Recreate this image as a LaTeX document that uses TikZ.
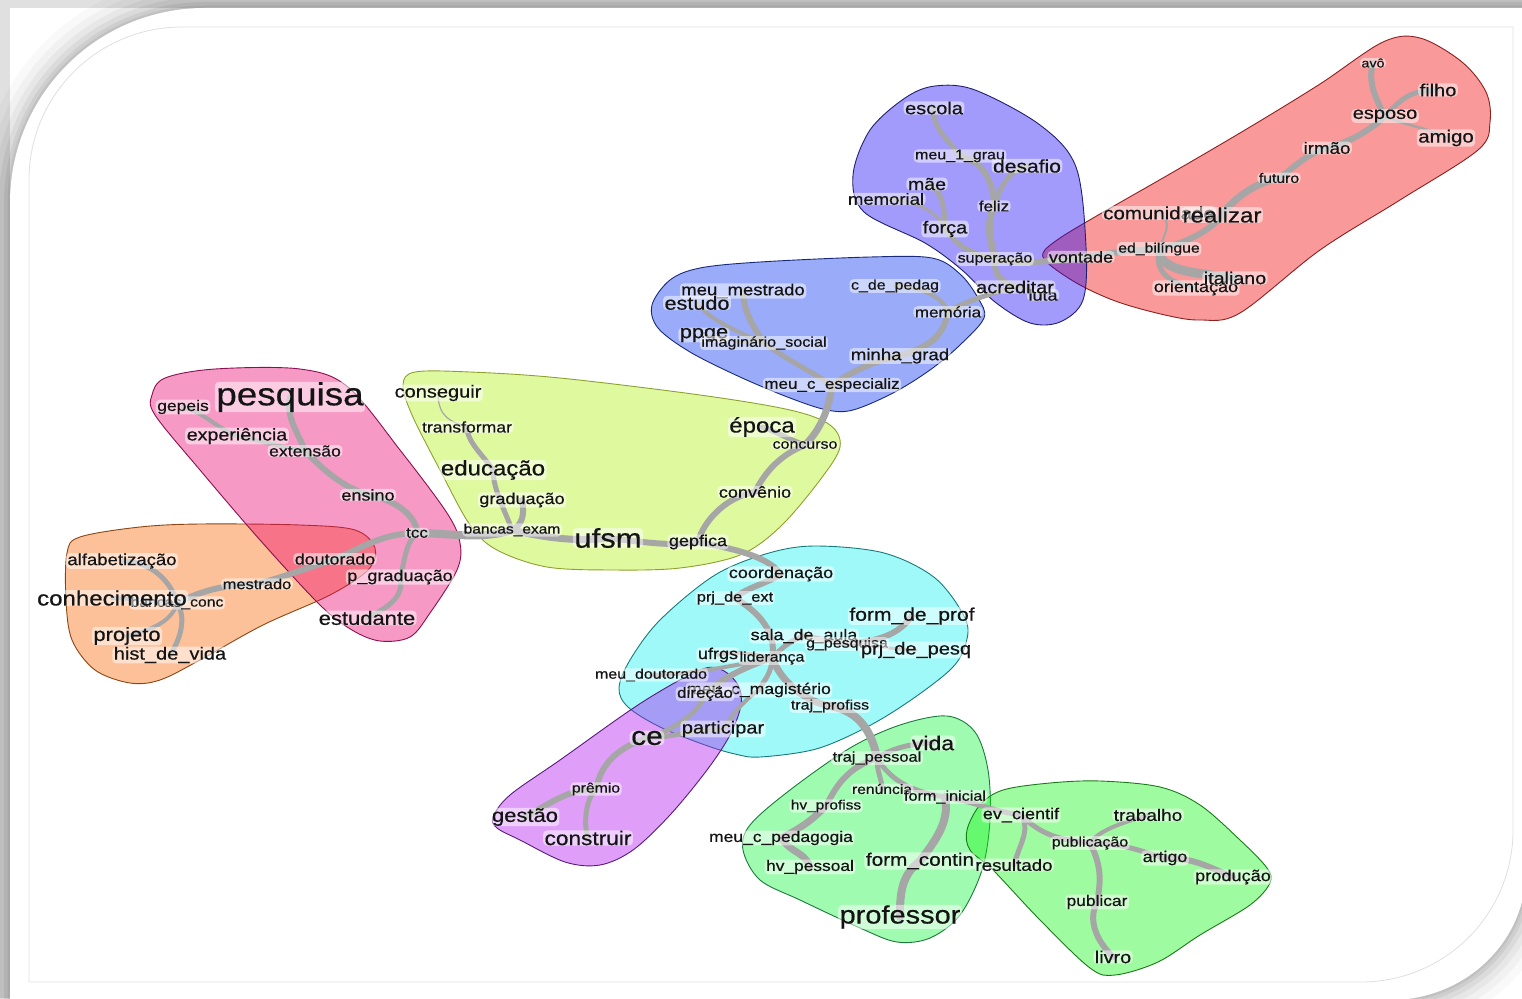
\documentclass[tikz,border=0pt]{standalone}
\usepackage{fontspec}
\setmainfont{Liberation Sans}[FakeStretch=1.15,FakeBold=0.5]
\pgfdeclarelayer{frame}
\pgfdeclarelayer{hulls}
\pgfdeclarelayer{edges}
\pgfsetlayers{frame,hulls,edges,main}
\definecolor{edgegray}{HTML}{A6A6A6}
\definecolor{hred}{HTML}{F00000}\definecolor{hredd}{HTML}{8B2020}
\definecolor{hvio}{HTML}{1907F5}\definecolor{hviod}{HTML}{20206E}
\definecolor{hblu}{HTML}{022DF2}\definecolor{hblud}{HTML}{1A2A7A}
\definecolor{hyel}{HTML}{AFF20F}\definecolor{hyeld}{HTML}{8FA030}
\definecolor{hpnk}{HTML}{ED0070}\definecolor{hpnkd}{HTML}{8B1050}
\definecolor{horg}{HTML}{FA6600}\definecolor{horgd}{HTML}{8B4513}
\definecolor{hcya}{HTML}{0FF2F2}\definecolor{hcyad}{HTML}{1A7A7A}
\definecolor{hpur}{HTML}{AF11F0}\definecolor{hpurd}{HTML}{5A1A7A}
\definecolor{hmnt}{HTML}{0FF537}\definecolor{hmntd}{HTML}{1A7A3A}
\definecolor{hgrn}{HTML}{11F511}\definecolor{hgrnd}{HTML}{1A7A1A}
\newcommand\fsz[1]{\fontsize{#1}{#1}\selectfont}
\newcommand\lbl[1]{#1}
\tikzset{
 lb/.style={inner xsep=1.5pt, inner ysep=0.3pt, outer sep=0pt, text=black!92,
   fill=white, fill opacity=0.5, text opacity=1, rounded corners=4pt},
 sz/.style={font=\fsz{#1}},
 lnk/.style={draw=edgegray, line width=#1pt, line cap=round},
 hull/.style 2 args={fill=#1, fill opacity=0.4, draw=#2, draw opacity=1, line width=0.9pt},
}
\begin{document}
\begin{tikzpicture}[x=1pt,y=-1pt]
\useasboundingbox (0,0) rectangle (1522,998);
% ---------- frame ----------
\begin{pgfonlayer}{frame}
\fill[white] (0,0) rectangle (1522,998);
\fill[black!12] (0,0) rectangle (1522,8);
\fill[black!12] (0,0) rectangle (10,998);
\foreach \w/\o in {64/0.025,48/0.03,34/0.04,22/0.05,12/0.06,5/0.06}{
 \draw[line width=\w pt, black, opacity=\o] (10,1010) -- (10,203) .. controls (10,95) and (97,8) .. (205,8) -- (1540,8);
 \draw[line width=\w pt, black, opacity=\o] (1526,700) -- (1526,870) .. controls (1526,942) and (1465,1000) .. (1390,1000) -- (1200,1000);
}
\fill[white] (10,1010) -- (10,203) .. controls (10,95) and (97,8) .. (205,8) -- (1530,8) -- (1526,870) .. controls (1526,942) and (1465,1000) .. (1390,1000) -- cycle;
\draw[black!12, line width=0.8pt] (29,982) -- (29,180) .. controls (29,95.5) and (97.5,27) .. (182,27) -- (1513,27) -- (1513,830) .. controls (1513,914) and (1445,982) .. (1361,982) -- cycle;
\end{pgfonlayer}
% ---------- hulls ----------
\begin{pgfonlayer}{hulls}
\draw[hull={hred}{hredd}] plot[smooth cycle, tension=0.55] coordinates {(1043,253) (1060,238) (1100,214) (1175,171) (1250,127) (1320,84) (1383,42) (1420,38) (1462,62) (1486,92) (1490,122) (1478,150) (1400,200) (1320,250) (1240,313) (1200,320) (1165,315) (1118,302) (1080,285) (1050,265)};
\draw[hull={hvio}{hviod}] plot[smooth cycle, tension=0.55] coordinates {(905,98) (935,86) (975,90) (1040,125) (1076,167) (1086,247) (1083,300) (1060,322) (1030,323) (995,302) (962,270) (925,243) (864,212) (853,175) (870,130)};
\draw[hull={hblu}{hblud}] plot[smooth cycle, tension=0.55] coordinates {(652,305) (670,280) (700,268) (760,262) (870,257) (932,258) (960,274) (978,298) (984,318) (960,345) (930,370) (893,393) (853,410) (827,410) (790,398) (740,377) (690,352) (658,328)};
\draw[hull={hyel}{hyeld}] plot[smooth cycle, tension=0.55] coordinates {(403,385) (415,372) (470,372) (560,378) (700,395) (790,410) (830,425) (840,447) (820,480) (780,527) (740,555) (680,568) (613,570) (547,567) (497,550) (470,525) (440,470) (412,415)};
\draw[hull={horg}{horgd}] plot[smooth cycle, tension=0.55] coordinates {(67,553) (80,537) (140,527) (200,524) (300,525) (355,530) (375,548) (368,570) (330,595) (263,625) (200,660) (160,680) (130,683) (95,670) (72,640) (66,600)};
\draw[hull={hpnk}{hpnkd}] plot[smooth cycle, tension=0.55] coordinates {(152,395) (165,378) (215,369) (300,369) (348,387) (400,450) (447,513) (460,543) (457,570) (430,613) (410,637) (380,641) (352,630) (320,605) (260,540) (200,470) (155,415)};
\draw[hull={hcya}{hcyad}] plot[smooth cycle, tension=0.55] coordinates {(619,688) (630,660) (660,620) (715,575) (769,553) (816,546) (884,553) (935,578) (965,618) (966,643) (952,668) (911,700) (867,727) (816,749) (760,757) (735,754) (705,745) (660,727) (628,707)};
\draw[hull={hpur}{hpurd}] plot[smooth cycle, tension=0.55] coordinates {(493,817) (510,795) (560,760) (641,703) (700,670) (722,670) (738,685) (741,705) (730,735) (707,770) (670,815) (633,850) (600,865) (565,862) (520,840) (497,828)};
\draw[hull={hmnt}{hmntd}] plot[smooth cycle, tension=0.55] coordinates {(743,850) (750,825) (790,790) (850,748) (900,725) (947,716) (975,732) (988,770) (990,820) (982,870) (960,915) (930,938) (897,942) (860,928) (800,900) (760,880)};
\draw[hull={hgrn}{hgrnd}] plot[smooth cycle, tension=0.55] coordinates {(967,830) (980,805) (1003,790) (1050,783) (1100,781) (1160,787) (1200,805) (1240,840) (1267,868) (1270,883) (1250,905) (1200,935) (1158,962) (1115,975) (1090,968) (1040,920) (993,870) (970,850)};
\end{pgfonlayer}
% ---------- nodes ----------
% red
\node[lb,sz=12.4] (avo) at (1373,63) {\lbl{avô}};
\node[lb,sz=17.4] (filho) at (1438,90) {\lbl{filho}};
\node[lb,sz=17.4] (esposo) at (1385,116) {\lbl{esposo}};
\node[lb,sz=17.7] (amigo) at (1446,138) {\lbl{amigo}};
\node[lb,sz=16.3] (irmao) at (1327,148) {\lbl{irmão}};
\node[lb,sz=13.7] (futuro) at (1279,178) {\lbl{futuro}};
\node[lb,sz=17.8] (comunidade) at (1159,213) {\lbl{comunidade}};
\node[lb,sz=20.9] (realizar) at (1222,215) {\lbl{realizar}};
\node[lb,sz=13.7] (edb) at (1159,249) {\lbl{ed\_bilíngue}};
\node[lb,sz=15.7] (vontade) at (1081,257) {\lbl{vontade}};
\node[lb,sz=15.7] (orientacao) at (1196,288) {\lbl{orientação}};
\node[lb,sz=17.1] (italiano) at (1235,278) {\lbl{italiano}};
% violet
\node[lb,sz=17.4] (escola) at (934,108) {\lbl{escola}};
\node[lb,sz=13.9] (meu1) at (960,156) {\lbl{meu\_1\_grau}};
\node[lb,sz=18.3] (desafio) at (1027,166) {\lbl{desafio}};
\node[lb,sz=17] (mae) at (927,184) {\lbl{mãe}};
\node[lb,sz=16.1] (memorial) at (886,199) {\lbl{memorial}};
\node[lb,sz=14.8] (feliz) at (994,206) {\lbl{feliz}};
\node[lb,sz=17.4] (forca) at (945,229) {\lbl{força}};
\node[lb,sz=13.9] (superacao) at (995,259) {\lbl{superação}};
\node[lb,sz=15.7] (luta) at (1043,295) {\lbl{luta}};
\node[lb,sz=17.4] (acreditar) at (1015,287) {\lbl{acreditar}};
% blue
\node[lb,sz=13.9] (cdp) at (895,286) {\lbl{c\_de\_pedag}};
\node[lb,sz=14.8] (memoria) at (948,312) {\lbl{memória}};
\node[lb,sz=16.1] (meumestrado) at (743,291) {\lbl{meu\_mestrado}};
\node[lb,sz=18.8] (estudo) at (697,303) {\lbl{estudo}};
\node[lb,sz=18.9] (ppge) at (704,335) {\lbl{ppge}};
\node[lb,sz=14.1] (imag) at (764,343) {\lbl{imaginário\_social}};
\node[lb,sz=16.2] (minhagrad) at (900,356) {\lbl{minha\_grad}};
\node[lb,sz=14.8] (meucesp) at (832,385) {\lbl{meu\_c\_especializ}};
% yellow
\node[lb,sz=17.4] (conseguir) at (438,393) {\lbl{conseguir}};
\node[lb,sz=15.3] (transformar) at (467,427) {\lbl{transformar}};
\node[lb,sz=20.9] (epoca) at (762,427) {\lbl{época}};
\node[lb,sz=13.9] (concurso) at (805,445) {\lbl{concurso}};
\node[lb,sz=20.9] (educacao) at (493,470) {\lbl{educação}};
\node[lb,sz=15.7] (convenio) at (755,492) {\lbl{convênio}};
\node[lb,sz=15.7] (graduacao) at (522,500) {\lbl{graduação}};
\node[lb,sz=13.5] (bancasexam) at (512,530) {\lbl{bancas\_exam}};
\node[lb,sz=27] (ufsm) at (608,538) {\lbl{ufsm}};
\node[lb,sz=15.7] (gepfica) at (698,542) {\lbl{gepfica}};
% pink
\node[lb,sz=15.2] (gepeis) at (183,407) {\lbl{gepeis}};
\node[lb,sz=32] (pesquisa) at (290,397) {\lbl{pesquisa}};
\node[lb,sz=17.1] (experiencia) at (237,436) {\lbl{experiência}};
\node[lb,sz=15.4] (extensao) at (305,451) {\lbl{extensão}};
\node[lb,sz=15.7] (ensino) at (368,495) {\lbl{ensino}};
\node[lb,sz=14.8] (tcc) at (417,533) {\lbl{tcc}};
\node[lb,sz=15.5] (doutorado) at (335,559) {\lbl{doutorado}};
\node[lb,sz=15.7] (pgrad) at (400,577) {\lbl{p\_graduação}};
\node[lb,sz=19.1] (estudante) at (367,618) {\lbl{estudante}};
% orange
\node[lb,sz=16.1] (alfab) at (122,561) {\lbl{alfabetização}};
\node[lb,sz=14.3] (mestrado) at (257,584) {\lbl{mestrado}};
\node[lb,sz=13.7] (bancasconc) at (177,603) {\lbl{bancas\_conc}};
\node[lb,sz=20.9] (conhecimento) at (112,598) {\lbl{conhecimento}};
\node[lb,sz=19.1] (projeto) at (127,636) {\lbl{projeto}};
\node[lb,sz=17.4] (hist) at (170,655) {\lbl{hist\_de\_vida}};
% cyan
\node[lb,sz=15.7] (coordenacao) at (781,574) {\lbl{coordenação}};
\node[lb,sz=14.2] (prjext) at (735,598) {\lbl{prj\_de\_ext}};
\node[lb,sz=18.3] (formprof) at (912,616) {\lbl{form\_de\_prof}};
\node[lb,sz=15.6] (salaaula) at (804,636) {\lbl{sala\_de\_aula}};
\node[lb,sz=13.9] (gpesq) at (847,644) {\lbl{g\_pesquisa}};
\node[lb,sz=17.4] (prjpesq) at (916,650) {\lbl{prj\_de\_pesq}};
\node[lb,sz=15.7] (ufrgs) at (718,655) {\lbl{ufrgs}};
\node[lb,sz=13.9] (lideranca) at (772,658) {\lbl{liderança}};
\node[lb,sz=13.9] (meudout) at (651,675) {\lbl{meu\_doutorado}};
\node[lb,sz=15.3] (meucmag) at (759,690) {\lbl{meu\_c\_magistério}};
\node[lb,sz=14.8] (direcao) at (705,694) {\lbl{direção}};
\node[lb,sz=13.9] (trajprof) at (830,706) {\lbl{traj\_profiss}};
\node[lb,sz=17.4] (participar) at (723,729) {\lbl{participar}};
% purple
\node[lb,sz=26] (ce) at (647,738) {\lbl{ce}};
\node[lb,sz=13.7] (premio) at (596,789) {\lbl{prêmio}};
\node[lb,sz=19.1] (gestao) at (525,817) {\lbl{gestão}};
\node[lb,sz=19.7] (construir) at (588,838) {\lbl{construir}};
% mint
\node[lb,sz=20] (vida) at (933,743) {\lbl{vida}};
\node[lb,sz=14.3] (trajpess) at (877,758) {\lbl{traj\_pessoal}};
\node[lb,sz=13.6] (renuncia) at (882,789) {\lbl{renúncia}};
\node[lb,sz=14.1] (forminicial) at (945,797) {\lbl{form\_inicial}};
\node[lb,sz=13.4] (hvprof) at (826,806) {\lbl{hv\_profiss}};
\node[lb,sz=15.2] (meucped) at (781,838) {\lbl{meu\_c\_pedagogia}};
\node[lb,sz=18] (formcontin) at (920,861) {\lbl{form\_contin}};
\node[lb,sz=15.1] (hvpess) at (810,867) {\lbl{hv\_pessoal}};
\node[lb,sz=25.2] (professor) at (900,917) {\lbl{professor}};
% green
\node[lb,sz=15.7] (evcientif) at (1021,815) {\lbl{ev\_cientif}};
\node[lb,sz=16.5] (trabalho) at (1148,815) {\lbl{trabalho}};
\node[lb,sz=13.9] (publicacao) at (1090,843) {\lbl{publicação}};
\node[lb,sz=16.3] (resultado) at (1014,865) {\lbl{resultado}};
\node[lb,sz=15.5] (artigo) at (1165,858) {\lbl{artigo}};
\node[lb,sz=15.8] (producao) at (1233,877) {\lbl{produção}};
\node[lb,sz=15.1] (publicar) at (1097,902) {\lbl{publicar}};
\node[lb,sz=17.2] (livro) at (1113,957) {\lbl{livro}};
% ---------- edges ----------
\begin{pgfonlayer}{edges}
% red
\draw[lnk=6] (avo.center) .. controls +(-6,20) and +(-8,-15) .. (esposo.center);
\draw[lnk=5] (filho.center) .. controls +(-30,0) and +(15,-15) .. (esposo.center);
\draw[lnk=2.5] (amigo.center) .. controls +(-15,-10) and +(20,10) .. (esposo.center);
\draw[lnk=6] (esposo.center) .. controls +(-15,15) and +(20,-5) .. (irmao.center);
\draw[lnk=6] (irmao.center) .. controls +(-20,5) and +(15,-10) .. (futuro.center);
\draw[lnk=7] (futuro.center) .. controls +(-25,5) and +(10,-15) .. (realizar.center);
\draw[lnk=6] (realizar.center) .. controls +(-10,15) and +(25,-5) .. (edb.center);
\draw[lnk=2] (comunidade.center) .. controls +(15,10) and +(5,-15) .. (edb.center);
\draw[lnk=9] (edb.center) .. controls +(0,25) and +(-30,-5) .. (italiano.center);
\draw[lnk=5] (edb.center) .. controls +(-5,25) and +(-25,-5) .. (orientacao.center);
\draw[lnk=6] (edb.center) .. controls +(-25,0) and +(25,-3) .. (vontade.center);
\draw[lnk=6] (vontade.center) .. controls +(-25,5) and +(20,5) .. (superacao.center);
% violet
\draw[lnk=5] (escola.center) .. controls +(-3,20) and +(-10,-15) .. (meu1.center);
\draw[lnk=6] (meu1.center) .. controls +(25,5) and +(0,-20) .. (feliz.center);
\draw[lnk=5] (desafio.center) .. controls +(-20,5) and +(5,-15) .. (feliz.center);
\draw[lnk=7] (feliz.center) .. controls +(-8,20) and +(-5,-20) .. (superacao.center);
\draw[lnk=5] (mae.center) .. controls +(15,5) and +(0,-20) .. (forca.center);
\draw[lnk=3] (memorial.center) .. controls +(30,0) and +(-5,-15) .. (forca.center);
\draw[lnk=5] (forca.center) .. controls +(10,15) and +(-25,-5) .. (superacao.center);
\draw[lnk=6] (superacao.center) .. controls +(0,15) and +(-20,-10) .. (acreditar.center);
\draw[lnk=3] (acreditar.center) .. controls +(10,0) and +(-10,-5) .. (luta.center);
\draw[lnk=5] (acreditar.center) .. controls +(-20,5) and +(15,-10) .. (memoria.center);
% blue
\draw[lnk=4] (cdp.center) .. controls +(25,0) and +(-5,-15) .. (memoria.center);
\draw[lnk=6] (memoria.center) .. controls +(-5,25) and +(30,-10) .. (minhagrad.center);
\draw[lnk=6] (minhagrad.center) .. controls +(-30,5) and +(15,-10) .. (meucesp.center);
\draw[lnk=7] (meucesp.center) .. controls +(-3,25) and +(15,-15) .. (concurso.center);
\draw[lnk=5] (meucesp.center) .. controls +(-15,-10) and +(20,15) .. (imag.center);
\draw[lnk=6] (meumestrado.center) .. controls +(0,20) and +(-10,-15) .. (imag.center);
\draw[lnk=4] (estudo.center) .. controls +(10,15) and +(-25,-10) .. (imag.center);
\draw[lnk=3] (ppge.center) .. controls +(20,5) and +(-20,0) .. (imag.center);
% yellow
\draw[lnk=5] (concurso.center) .. controls +(-15,-5) and +(15,5) .. (epoca.center);
\draw[lnk=6] (concurso.center) .. controls +(-25,10) and +(10,-20) .. (convenio.center);
\draw[lnk=6] (convenio.center) .. controls +(-30,5) and +(5,-20) .. (gepfica.center);
\draw[lnk=6] (gepfica.center) .. controls +(-30,5) and +(30,3) .. (ufsm.center);
\draw[lnk=7] (ufsm.center) .. controls +(-35,5) and +(20,5) .. (bancasexam.center);
\draw[lnk=6] (bancasexam.center) .. controls +(10,-5) and +(3,15) .. (graduacao.center);
\draw[lnk=5] (bancasexam.center) .. controls +(-5,-15) and +(0,20) .. (educacao.center);
\draw[lnk=5] (educacao.center) .. controls +(-10,-15) and +(0,15) .. (transformar.center);
\draw[lnk=1.2] (conseguir.center) .. controls +(0,25) and +(-15,-5) .. (transformar.center);
\draw[lnk=8] (bancasexam.center) .. controls +(-30,10) and +(30,0) .. (tcc.center);
\draw[lnk=6] (gepfica.center) .. controls +(25,5) and +(-15,-20) .. (coordenacao.center);
% pink
\draw[lnk=4] (gepeis.center) .. controls +(20,5) and +(-20,-8) .. (experiencia.center);
\draw[lnk=4] (experiencia.center) .. controls +(25,5) and +(-20,-3) .. (extensao.center);
\draw[lnk=6] (pesquisa.center) .. controls +(-5,20) and +(-5,-15) .. (extensao.center);
\draw[lnk=6] (extensao.center) .. controls +(15,15) and +(-30,-10) .. (ensino.center);
\draw[lnk=6] (ensino.center) .. controls +(30,5) and +(0,-15) .. (tcc.center);
\draw[lnk=6] (tcc.center) .. controls +(-35,0) and +(25,-10) .. (doutorado.center);
\draw[lnk=5] (tcc.center) .. controls +(-12,10) and +(5,-15) .. (pgrad.center);
\draw[lnk=5] (pgrad.center) .. controls +(5,20) and +(20,-10) .. (estudante.center);
\draw[lnk=6] (doutorado.center) .. controls +(-30,10) and +(20,-5) .. (mestrado.center);
\draw[lnk=6] (mestrado.center) .. controls +(-35,0) and +(20,-10) .. (bancasconc.center);
% orange
\draw[lnk=5] (bancasconc.center) .. controls +(-5,-20) and +(30,0) .. (alfab.center);
\draw[lnk=4] (bancasconc.center) .. controls +(-20,0) and +(20,0) .. (conhecimento.center);
\draw[lnk=4] (bancasconc.center) .. controls +(-5,20) and +(20,-5) .. (projeto.center);
\draw[lnk=5] (bancasconc.center) .. controls +(10,15) and +(10,-15) .. (hist.center);
% cyan
\draw[lnk=6] (coordenacao.center) .. controls +(-15,10) and +(10,-10) .. (prjext.center);
\draw[lnk=6] (prjext.center) .. controls +(25,15) and +(5,-25) .. (lideranca.center);
\draw[lnk=5] (salaaula.center) .. controls +(-15,5) and +(10,-10) .. (lideranca.center);
\draw[lnk=5] (gpesq.center) .. controls +(-20,-3) and +(20,3) .. (salaaula.center);
\draw[lnk=6] (formprof.center) .. controls +(-15,20) and +(30,-3) .. (gpesq.center);
\draw[lnk=3] (prjpesq.center) .. controls +(-20,0) and +(20,0) .. (gpesq.center);
\draw[lnk=4] (ufrgs.center) .. controls +(25,-5) and +(-20,-3) .. (lideranca.center);
\draw[lnk=4] (meudout.center) .. controls +(40,0) and +(-25,5) .. (lideranca.center);
\draw[lnk=6] (lideranca.center) .. controls +(-25,8) and +(15,-15) .. (direcao.center);
\draw[lnk=5] (direcao.center) .. controls +(-5,20) and +(20,-5) .. (ce.center);
\draw[lnk=5] (lideranca.center) .. controls +(0,15) and +(5,-10) .. (meucmag.center);
\draw[lnk=4] (meucmag.center) .. controls +(-15,10) and +(10,-15) .. (participar.center);
\draw[lnk=5] (participar.center) .. controls +(-25,0) and +(20,0) .. (ce.center);
\draw[lnk=7] (lideranca.center) .. controls +(10,25) and +(-25,-5) .. (trajprof.center);
\draw[lnk=8] (trajprof.center) .. controls +(30,5) and +(-5,-25) .. (trajpess.center);
% purple
\draw[lnk=6] (ce.center) .. controls +(-30,10) and +(5,-25) .. (premio.center);
\draw[lnk=6] (premio.center) .. controls +(-30,0) and +(20,-10) .. (gestao.center);
\draw[lnk=5] (premio.center) .. controls +(-10,10) and +(-5,-15) .. (construir.center);
% mint
\draw[lnk=5] (trajpess.center) .. controls +(15,-10) and +(-20,0) .. (vida.center);
\draw[lnk=6] (trajpess.center) .. controls +(-30,10) and +(10,-20) .. (hvprof.center);
\draw[lnk=7] (hvprof.center) .. controls +(-15,15) and +(20,-10) .. (meucped.center);
\draw[lnk=7] (meucped.center) .. controls +(10,15) and +(-5,-15) .. (hvpess.center);
\draw[lnk=5] (trajpess.center) .. controls +(0,15) and +(0,-10) .. (renuncia.center);
\draw[lnk=5] (trajpess.center) .. controls +(15,25) and +(-30,-5) .. (forminicial.center);
\draw[lnk=8] (forminicial.center) .. controls +(5,25) and +(15,-20) .. (formcontin.center);
\draw[lnk=8] (formcontin.center) .. controls +(-20,15) and +(0,-20) .. (professor.center);
\draw[lnk=5] (forminicial.center) .. controls +(30,5) and +(-25,-3) .. (evcientif.center);
% green
\draw[lnk=5] (evcientif.center) .. controls +(10,15) and +(5,-20) .. (resultado.center);
\draw[lnk=5] (evcientif.center) .. controls +(20,20) and +(-30,-3) .. (publicacao.center);
\draw[lnk=4] (publicacao.center) .. controls +(10,-15) and +(-15,5) .. (trabalho.center);
\draw[lnk=5] (publicacao.center) .. controls +(35,0) and +(-20,-5) .. (artigo.center);
\draw[lnk=6] (artigo.center) .. controls +(30,0) and +(-25,-10) .. (producao.center);
\draw[lnk=6] (publicacao.center) .. controls +(10,20) and +(5,-25) .. (publicar.center);
\draw[lnk=6] (publicar.center) .. controls +(-10,20) and +(-15,-15) .. (livro.center);
\end{pgfonlayer}
\end{tikzpicture}
\end{document}
